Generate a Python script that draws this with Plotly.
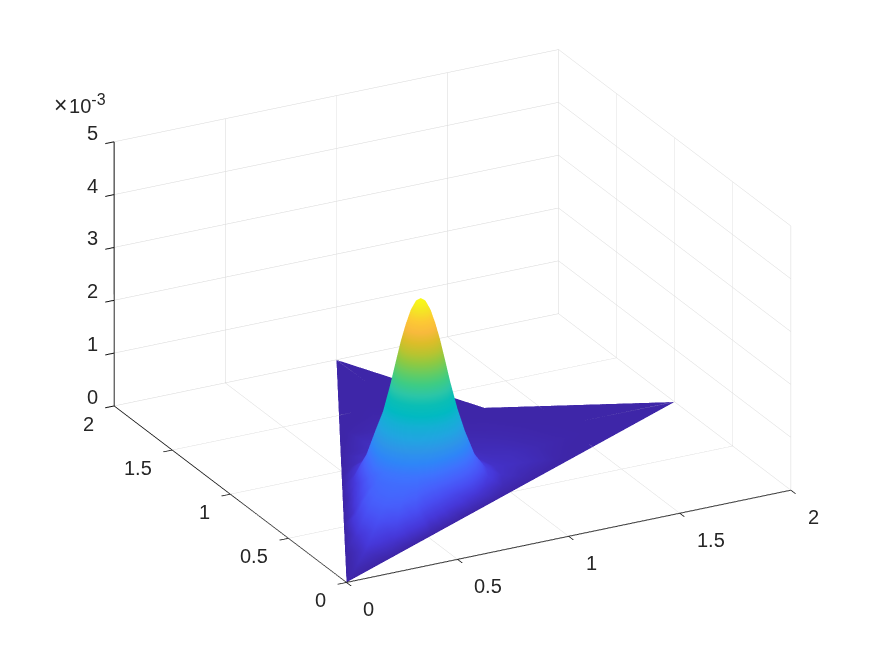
import numpy as np
import plotly.graph_objects as go

# domain outline
domain_x = [0, 2, 1.3, 1]
domain_y = [0, 1, 1.3, 2]

# peak position and shared radial profile of the core (z in units of 1e-3)
peak_x = 0.7
peak_y = 0.7
core_r = [0.02, 0.04, 0.06, 0.08, 0.10, 0.12, 0.15]
core_z = [3.54, 3.37, 3.10, 2.77, 2.38, 1.98, 1.45]
peak_z = 3.6

# skirt around the peak: one row per direction, one column per ring
skirt_r = [0.18, 0.22, 0.27, 0.33, 0.38, 0.42, 0.48, 0.55, 0.62, 0.75, 0.88, 1.0, 1.5]
angles = [-172.5, -165, -157.5, -150, -142.5, -135, -127.5, -120, -112.5, -105, -97.5, -90,
          -75, -60, -45, -30, -15, 0, 13, 30, 45, 60, 77, 90, 105, 120, 135, 150, 165, 180]
skirt_z = [
    [1.19, 0.82, 0.45, 0.16, 0, 0, 0, 0, 0, 0, 0, 0, 0],                  # -172.5
    [1.22, 0.90, 0.58, 0.32, 0.11, 0, 0, 0, 0, 0, 0, 0, 0],               # -165
    [1.24, 0.93, 0.66, 0.47, 0.30, 0.14, 0, 0, 0, 0, 0, 0, 0],            # -157.5
    [1.26, 0.96, 0.73, 0.62, 0.54, 0.45, 0.26, 0.03, 0, 0, 0, 0, 0],      # -150
    [1.27, 0.98, 0.75, 0.65, 0.61, 0.57, 0.49, 0.33, 0.14, 0, 0, 0, 0],   # -142.5
    [1.28, 0.99, 0.76, 0.66, 0.63, 0.60, 0.54, 0.44, 0.33, 0.14, 0.05, 0, 0],  # -135
    [1.27, 0.98, 0.75, 0.65, 0.61, 0.57, 0.49, 0.33, 0.14, 0, 0, 0, 0],   # -127.5
    [1.26, 0.96, 0.73, 0.62, 0.54, 0.45, 0.26, 0.03, 0, 0, 0, 0, 0],      # -120
    [1.24, 0.93, 0.66, 0.47, 0.30, 0.14, 0, 0, 0, 0, 0, 0, 0],            # -112.5
    [1.22, 0.90, 0.58, 0.32, 0.11, 0, 0, 0, 0, 0, 0, 0, 0],               # -105
    [1.19, 0.82, 0.45, 0.16, 0, 0, 0, 0, 0, 0, 0, 0, 0],                  # -97.5
    [1.17, 0.74, 0.34, 0.05, 0, 0, 0, 0, 0, 0, 0, 0, 0],                  # -90
    [1.12, 0.63, 0.20, 0, 0, 0, 0, 0, 0, 0, 0, 0, 0],                     # -75
    [1.09, 0.58, 0.17, 0, 0, 0, 0, 0, 0, 0, 0, 0, 0],                     # -60
    [1.07, 0.57, 0.17, 0, 0, 0, 0, 0, 0, 0, 0, 0, 0],                     # -45
    [1.04, 0.57, 0.24, 0.06, 0, 0, 0, 0, 0, 0, 0, 0, 0],                  # -30
    [1.02, 0.56, 0.26, 0.12, 0.08, 0.04, 0, 0, 0, 0, 0, 0, 0],            # -15
    [1.00, 0.55, 0.25, 0.13, 0.11, 0.10, 0.08, 0.05, 0.015, 0, 0, 0, 0],  # 0
    [0.99, 0.54, 0.24, 0.12, 0.10, 0.09, 0.08, 0.06, 0.04, 0.015, 0.006, 0.003, 0],  # 13
    [0.98, 0.53, 0.23, 0.11, 0.09, 0.07, 0.06, 0.045, 0.03, 0.01, 0.004, 0, 0],      # 30
    [0.97, 0.52, 0.22, 0.10, 0.08, 0.06, 0.05, 0.035, 0.02, 0.006, 0, 0, 0],         # 45
    [0.98, 0.53, 0.23, 0.11, 0.09, 0.07, 0.06, 0.045, 0.03, 0.01, 0.004, 0, 0],      # 60
    [0.99, 0.54, 0.24, 0.12, 0.10, 0.09, 0.08, 0.06, 0.04, 0.015, 0.006, 0.003, 0],  # 77
    [1.00, 0.55, 0.25, 0.13, 0.11, 0.10, 0.08, 0.05, 0.015, 0, 0, 0, 0],  # 90
    [1.02, 0.56, 0.26, 0.12, 0.08, 0.04, 0, 0, 0, 0, 0, 0, 0],            # 105
    [1.04, 0.57, 0.24, 0.06, 0, 0, 0, 0, 0, 0, 0, 0, 0],                  # 120
    [1.07, 0.57, 0.17, 0, 0, 0, 0, 0, 0, 0, 0, 0, 0],                     # 135
    [1.09, 0.58, 0.17, 0, 0, 0, 0, 0, 0, 0, 0, 0, 0],                     # 150
    [1.12, 0.63, 0.20, 0, 0, 0, 0, 0, 0, 0, 0, 0, 0],                     # 165
    [1.17, 0.74, 0.34, 0.05, 0, 0, 0, 0, 0, 0, 0, 0, 0],                  # 180
]

tick_xy = [0, 0.5, 1, 1.5, 2]
tick_xy_text = ["0", "0.5", "1", "1.5", "2"]
tick_z = [0, 1, 2, 3, 4, 5]
tick_z_text = ["0", "1", "2", "3", "4", "5"]

parula = [
    [0.00, "rgb(62,38,168)"], [0.05, "rgb(70,55,216)"], [0.10, "rgb(72,76,241)"],
    [0.15, "rgb(71,96,252)"], [0.20, "rgb(62,115,254)"], [0.25, "rgb(46,135,247)"],
    [0.30, "rgb(45,150,232)"], [0.35, "rgb(33,165,225)"], [0.40, "rgb(20,176,212)"],
    [0.45, "rgb(1,186,194)"], [0.50, "rgb(11,190,181)"], [0.55, "rgb(44,198,167)"],
    [0.60, "rgb(62,204,132)"], [0.65, "rgb(100,204,100)"], [0.70, "rgb(143,201,66)"],
    [0.75, "rgb(185,196,48)"], [0.80, "rgb(220,189,41)"], [0.85, "rgb(248,186,61)"],
    [0.90, "rgb(253,201,52)"], [0.95, "rgb(245,228,38)"], [1.00, "rgb(249,251,21)"],
]


def edge_distance(angle):
    # distance from the peak to the domain outline along one direction
    c, s = np.cos(np.radians(angle)), np.sin(np.radians(angle))
    best = np.inf
    for i in range(len(domain_x)):
        ax, ay = domain_x[i] - peak_x, domain_y[i] - peak_y
        j = (i + 1) % len(domain_x)
        ex, ey = domain_x[j] - domain_x[i], domain_y[j] - domain_y[i]
        det = c * ey - s * ex
        if abs(det) < 1e-12:
            continue
        t = (ax * ey - ay * ex) / det
        u = (ax * s - ay * c) / det
        if t > 0 and -1e-9 <= u <= 1 + 1e-9:
            best = min(best, t)
    return best


rings = core_r + skirt_r
xs, ys, zs = [peak_x], [peak_y], [peak_z]
for k, angle in enumerate(angles):
    reach = edge_distance(angle)
    heights = core_z + skirt_z[k]
    for r, h in zip(rings, heights):
        r = min(r, reach)
        xs.append(peak_x + r * np.cos(np.radians(angle)))
        ys.append(peak_y + r * np.sin(np.radians(angle)))
        zs.append(h)

n_ring, n_ang = len(rings), len(angles)
ii, jj, kk = [], [], []
for a in range(n_ang):
    b = (a + 1) % n_ang
    ii.append(0)
    jj.append(1 + a * n_ring)
    kk.append(1 + b * n_ring)
    for q in range(n_ring - 1):
        p1 = 1 + a * n_ring + q
        p2 = 1 + b * n_ring + q
        ii += [p1, p1]
        jj += [p2, p2 + 1]
        kk += [p2 + 1, p1 + 1]

fig = go.Figure()
fig.add_trace(go.Mesh3d(x=xs, y=ys, z=zs, i=ii, j=jj, k=kk,
                        intensity=zs, colorscale=parula, cmin=0, cmax=peak_z,
                        showscale=False, hoverinfo="skip", flatshading=False,
                        lighting=dict(ambient=1, diffuse=0, specular=0, fresnel=0, roughness=1)))

text_color = "rgb(38,38,38)"
label_font = dict(family="Liberation Sans", size=20, color=text_color)
axis_style = dict(showbackground=False, showspikes=False, showgrid=True, gridcolor="rgb(215,215,215)",
                  gridwidth=1, zeroline=False, showline=True, linecolor="rgb(15,15,15)", linewidth=2,
                  ticks="outside", ticklen=10, tickcolor="rgb(15,15,15)", tickwidth=2,
                  showticklabels=False, title="")

# tick labels as scene annotations so they stay upright like the original
labels = []
for v, t in zip(tick_xy, tick_xy_text):
    labels.append(dict(x=v, y=0, z=0, text=t, xanchor="left", yanchor="middle", xshift=15, yshift=-27,
                       showarrow=False, font=label_font))
    labels.append(dict(x=0, y=v, z=0, text=t, xanchor="right", yanchor="middle", xshift=-18, yshift=-18,
                       showarrow=False, font=label_font))
for v, t in zip(tick_z, tick_z_text):
    labels.append(dict(x=0, y=2, z=v, text=t, xanchor="right", yanchor="middle", xshift=-14, yshift=9,
                       showarrow=False, font=label_font))

a = np.radians(27.6)
el = np.radians(23.4)
eye_len = 1.25
zoom = 1.587
fig.update_layout(
    width=875, height=656, margin=dict(l=0, r=0, t=0, b=0), paper_bgcolor="white", showlegend=False,
    scene=dict(
        domain=dict(x=[0.034, 1], y=[0.037, 1]),
        aspectmode="manual", aspectratio=dict(x=zoom, y=zoom, z=0.574 * zoom),
        camera=dict(projection=dict(type="orthographic"), up=dict(x=0, y=0, z=1),
                    center=dict(x=0, y=0, z=0),
                    eye=dict(x=-eye_len * np.sin(a) * np.cos(el), y=-eye_len * np.cos(a) * np.cos(el),
                             z=eye_len * np.sin(el))),
        xaxis=dict(range=[0, 2], tickvals=tick_xy, **axis_style),
        yaxis=dict(range=[0, 2], tickvals=tick_xy, **axis_style),
        zaxis=dict(range=[0, 5], tickvals=tick_z, **axis_style),
        annotations=labels,
    ),
    annotations=[dict(text="<span style='font-size:23px'>×</span><span style='font-size:6px'>\u00a0</span>10"
                           "<sup><span style='font-size:16px'>-3</span></sup>",
                      xref="paper", yref="paper",
                      x=52 / 875, y=1 - 105 / 656, xanchor="left", yanchor="middle", showarrow=False,
                      font=label_font)],
)

fig.write_html("out.html", config={"displayModeBar": False}, post_script="document.body.style.margin='0';")
